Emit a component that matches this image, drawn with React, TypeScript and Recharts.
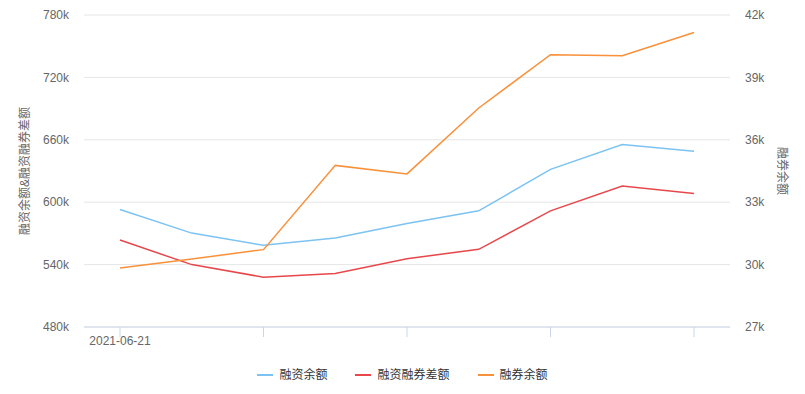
import { LineChart, Line, XAxis, YAxis, CartesianGrid, Legend, Label } from "recharts";

const dates = ["2021-06-21", "2021-06-22", "2021-06-23", "2021-06-24", "2021-06-25", "2021-06-28", "2021-06-29", "2021-06-30", "2021-07-01"];
const financing = [593000, 570300, 558500, 565500, 579600, 591700, 631600, 655500, 649100];
const spread = [563600, 540000, 527900, 531400, 545700, 554700, 591700, 615600, 608300];
const shortSelling = [29840, 30270, 30720, 34770, 34360, 37530, 40090, 40040, 41160];
const leftTicks = [480000, 540000, 600000, 660000, 720000, 780000];
const rightTicks = [27000, 30000, 33000, 36000, 39000, 42000];
const legendOrder = ["融资余额", "融资融券差额", "融券余额"];

const data = dates.map((d, i) => ({
  date: d,
  融资余额: financing[i],
  融资融券差额: spread[i],
  融券余额: shortSelling[i],
}));

const FONT = '"Liberation Sans", "Noto Sans CJK SC", sans-serif';
const fmtK = (v: number) => `${v / 1000}k`;

function XTick({ x, y, payload, index }: any) {
  return (
    <g>
      <line x1={x} x2={x} y1={y - 10} y2={y} stroke="#ccd6eb" />
      {index === 0 && (
        <text x={x} y={y + 8} textAnchor="middle" fill="#666" fontSize={12} fontFamily={FONT}>
          {payload.value}
        </text>
      )}
    </g>
  );
}

function LegendContent({ payload }: any) {
  const items = [...(payload || [])].sort((a: any, b: any) => legendOrder.indexOf(a.value) - legendOrder.indexOf(b.value));
  return (
    <div style={{ display: "flex", justifyContent: "center", fontFamily: FONT, fontSize: 12, color: "#333", lineHeight: "18px" }}>
      {items.map((p: any) => (
        <div key={p.value} style={{ display: "flex", alignItems: "center", margin: "0 14px" }}>
          <span style={{ width: 16, height: 2, background: p.color, marginRight: 6 }} />
          <span>{p.value}</span>
        </div>
      ))}
    </div>
  );
}

export default function App() {
  return (
    <div>
      <style>{"body{margin:0}"}</style>
      <LineChart width={805} height={394} data={data} margin={{ top: 15, right: 0, left: 0, bottom: 37 }}>
        <CartesianGrid vertical={false} stroke="#e6e6e6" yAxisId="left" />
        <XAxis
          dataKey="date"
          interval={1}
          height={30}
          padding={{ left: 36, right: 36 }}
          stroke="#ccd6eb"
          tickLine={false}
          tickSize={10}
          tickMargin={0}
          tick={<XTick />}
        />
        <YAxis
          yAxisId="left"
          width={84}
          domain={[480000, 780000]}
          ticks={leftTicks}
          tickFormatter={fmtK}
          axisLine={false}
          tickLine={false}
          tickMargin={9}
          tick={{ fill: "#666", fontSize: 12, fontFamily: FONT }}
        >
          <Label
            content={({ viewBox }: any) => (
              <text
                x={viewBox.x + 25}
                y={viewBox.y + viewBox.height / 2}
                transform={`rotate(-90, ${viewBox.x + 25}, ${viewBox.y + viewBox.height / 2})`}
                textAnchor="middle"
                dominantBaseline="central"
                fill="#666"
                fontSize={12}
                fontFamily={FONT}
              >
                融资余额&融资融券差额
              </text>
            )}
          />
        </YAxis>
        <YAxis
          yAxisId="right"
          orientation="right"
          width={75}
          domain={[27000, 42000]}
          ticks={rightTicks}
          tickFormatter={fmtK}
          axisLine={false}
          tickLine={false}
          tickMargin={9}
          tick={{ fill: "#666", fontSize: 12, fontFamily: FONT }}
        >
          <Label
            content={({ viewBox }: any) => (
              <text
                x={viewBox.x + 52}
                y={viewBox.y + viewBox.height / 2}
                transform={`rotate(90, ${viewBox.x + 52}, ${viewBox.y + viewBox.height / 2})`}
                textAnchor="middle"
                dominantBaseline="central"
                fill="#666"
                fontSize={12}
                fontFamily={FONT}
              >
                融券余额
              </text>
            )}
          />
        </YAxis>
        <Legend
          layout="horizontal"
          verticalAlign="middle"
          align="center"
          content={<LegendContent />}
          wrapperStyle={{ top: 366, left: 0, width: 805 }}
        />
        <Line yAxisId="left" dataKey="融资余额" stroke="#7cc3f2" strokeWidth={1.5} dot={false} isAnimationActive={false} />
        <Line yAxisId="left" dataKey="融资融券差额" stroke="#e8474b" strokeWidth={1.5} dot={false} isAnimationActive={false} />
        <Line yAxisId="right" dataKey="融券余额" stroke="#f9903a" strokeWidth={1.5} dot={false} isAnimationActive={false} />
      </LineChart>
    </div>
  );
}
